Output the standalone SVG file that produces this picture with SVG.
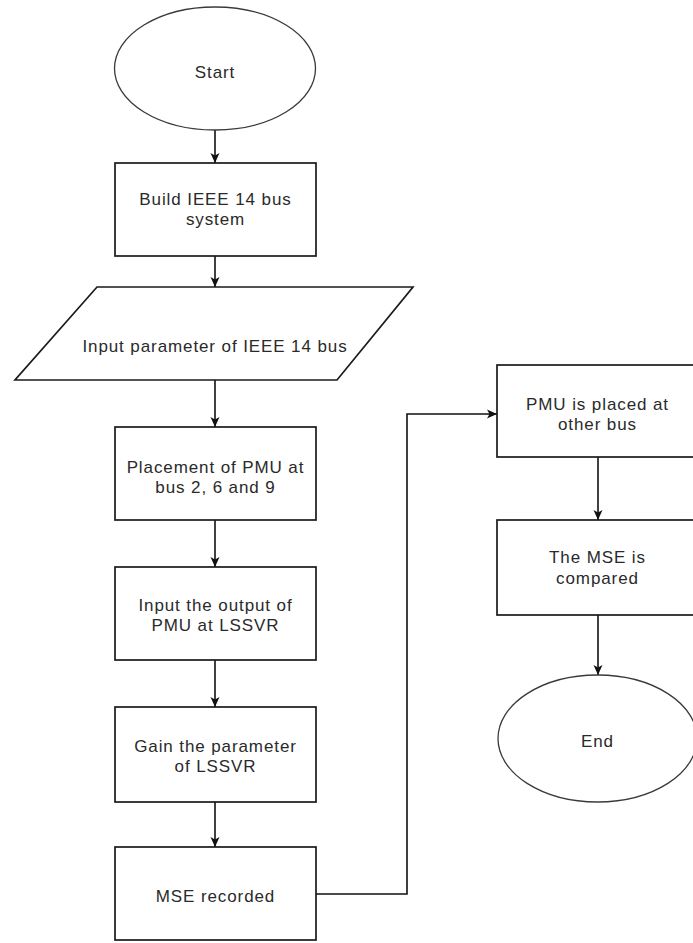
<svg xmlns="http://www.w3.org/2000/svg" width="693" height="943" viewBox="0 0 693 943">
<style>
.box{fill:#fff;stroke:#1a1a1a;stroke-width:1.7}
.oval{fill:#fff;stroke:#3a3a3a;stroke-width:1.3}
.lbl{font-family:"Liberation Sans",Arial,sans-serif;font-size:17px;letter-spacing:0.9px;fill:#2a2a2a;text-anchor:middle}
.edge{fill:none;stroke:#111;stroke-width:1.6}
</style>
<defs>
<marker id="arr" markerUnits="userSpaceOnUse" markerWidth="12" markerHeight="12" viewBox="0 0 12 12" refX="11" refY="6" orient="auto">
<path d="M1,1.5 L11,6 L1,10.5 L3.5,6 z" fill="#111"/>
</marker>
</defs>
<rect width="693" height="943" fill="#fff"/>
<g id="connectors">
<path class="edge" d="M215,130 L215,163" marker-end="url(#arr)"/>
<path class="edge" d="M215,256 L215,287" marker-end="url(#arr)"/>
<path class="edge" d="M215,380 L215,427" marker-end="url(#arr)"/>
<path class="edge" d="M215,520 L215,567" marker-end="url(#arr)"/>
<path class="edge" d="M215,660 L215,707" marker-end="url(#arr)"/>
<path class="edge" d="M215,802 L215,847" marker-end="url(#arr)"/>
<path class="edge" d="M316,894 L407,894 L407,414 L497,414" marker-end="url(#arr)"/>
<path class="edge" d="M598,457 L598,520" marker-end="url(#arr)"/>
<path class="edge" d="M598,615 L598,675" marker-end="url(#arr)"/>
</g>
<g id="start">
<ellipse class="oval" cx="215" cy="68.5" rx="100.5" ry="61.5"/>
<text class="lbl" x="215" y="78">Start</text>
</g>
<g id="build">
<rect class="box" x="115" y="163" width="201" height="93"/>
<text class="lbl" x="215.5" y="205">Build IEEE 14 bus</text>
<text class="lbl" x="215.5" y="225">system</text>
</g>
<g id="input-param">
<polygon class="box" points="97,287 413,287 337,380 15,380"/>
<text class="lbl" x="215" y="352">Input parameter of IEEE 14 bus</text>
</g>
<g id="placement">
<rect class="box" x="115" y="427" width="201" height="93"/>
<text class="lbl" x="215.5" y="473">Placement of PMU at</text>
<text class="lbl" x="215.5" y="493">bus 2, 6 and 9</text>
</g>
<g id="input-output">
<rect class="box" x="115" y="567" width="201" height="93"/>
<text class="lbl" x="215.5" y="611">Input the output of</text>
<text class="lbl" x="215.5" y="631">PMU at LSSVR</text>
</g>
<g id="gain">
<rect class="box" x="115" y="707" width="201" height="95"/>
<text class="lbl" x="215.5" y="752">Gain the parameter</text>
<text class="lbl" x="215.5" y="772">of LSSVR</text>
</g>
<g id="mse-recorded">
<rect class="box" x="115" y="847" width="201" height="93"/>
<text class="lbl" x="215.5" y="902">MSE recorded</text>
</g>
<g id="pmu-other">
<rect class="box" x="497" y="365" width="201" height="92"/>
<text class="lbl" x="597.5" y="410">PMU is placed at</text>
<text class="lbl" x="597.5" y="430">other bus</text>
</g>
<g id="mse-compared">
<rect class="box" x="497" y="520" width="201" height="95"/>
<text class="lbl" x="597.5" y="563">The MSE is</text>
<text class="lbl" x="597.5" y="584">compared</text>
</g>
<g id="end">
<ellipse class="oval" cx="597.5" cy="738.5" rx="99.5" ry="63.5"/>
<text class="lbl" x="597.5" y="747">End</text>
</g>
</svg>
